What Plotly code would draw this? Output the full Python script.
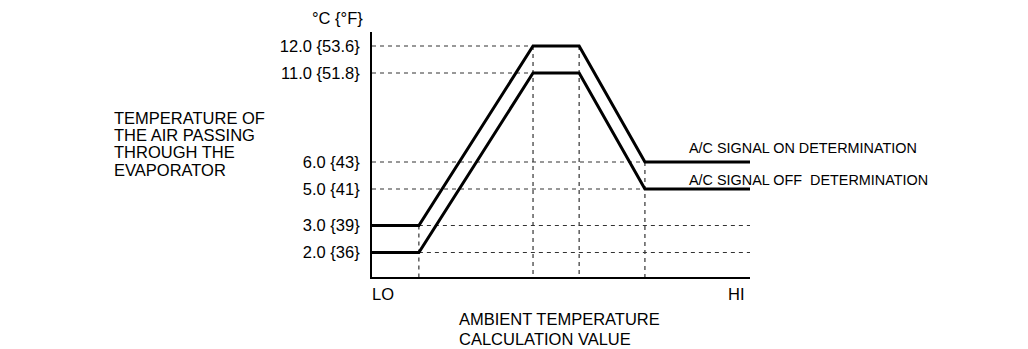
import numpy as np
import plotly.graph_objects as go

# ---- data ----
# ambient temperature calculation value (schematic, LO=0 ... HI=100)
ambient = [0, 12.4, 42.6, 54.8, 72.2, 100]
signal_on_c = [3.0, 3.0, 12.0, 12.0, 6.0, 6.0]     # A/C SIGNAL ON determination (°C)
signal_off_c = [2.0, 2.0, 11.0, 11.0, 5.0, 5.0]    # A/C SIGNAL OFF determination (°C)

tick_c = [2.0, 3.0, 5.0, 6.0, 11.0, 12.0]
tick_f = ["36", "39", "41", "43", "51.8", "53.6"]
tick_labels = [f"{c:.1f} {{{f}}}" for c, f in zip(tick_c, tick_f)]

# schematic (not-to-scale) vertical axis: °C -> display units
scale_c = [2.0, 3.0, 5.0, 6.0, 11.0, 12.0]
scale_disp = [24.5, 51.5, 88, 115, 204, 231]


def ydisp(v):
    return list(np.interp(v, scale_c, scale_disp))


FONT = "Liberation Sans"
L, R, T, B = 372, 278, 32, 72
W, H = 1028, 349
PW, PH = W - L - R, H - T - B


def paper(xpx, ypx):
    return (xpx - L) / PW, (H - B - ypx) / PH


fig = go.Figure()

dash_style = dict(color="#333333", width=1.2, dash="4px,4px")
x_min, x_max = ambient[0], ambient[-1]
on_y = ydisp(signal_on_c)
off_y = ydisp(signal_off_c)

# guide lines
guides = []
guides.append(([ambient[1], x_max], [on_y[1], on_y[1]]))
guides.append(([ambient[1], x_max], [off_y[1], off_y[1]]))
guides.append(([ambient[1], ambient[1]], [on_y[1], 0]))
guides.append(([x_min, ambient[2]], [on_y[2], on_y[2]]))
guides.append(([x_min, ambient[2]], [off_y[2], off_y[2]]))
guides.append(([ambient[2], ambient[2]], [on_y[2], 0]))
guides.append(([ambient[3], ambient[3]], [on_y[3], 0]))
guides.append(([x_min, ambient[4]], [on_y[4], on_y[4]]))
guides.append(([x_min, ambient[4]], [off_y[4], off_y[4]]))
guides.append(([ambient[4], ambient[4]], [on_y[4], 0]))

for gx, gy in guides:
    fig.add_trace(go.Scatter(x=gx, y=gy, mode="lines", line=dash_style,
                             hoverinfo="skip", showlegend=False))

for ys, name in [(on_y, "A/C SIGNAL ON DETERMINATION"),
                 (off_y, "A/C SIGNAL OFF  DETERMINATION")]:
    fig.add_trace(go.Scatter(x=ambient, y=ys, mode="lines", name=name,
                             line=dict(color="black", width=3),
                             showlegend=False))

ann = []


def add_text(text, xpx, ypx, xanchor="left", size=16.5):
    px, py = paper(xpx, ypx)
    ann.append(dict(text=text, x=px, y=py, xref="paper", yref="paper",
                    xanchor=xanchor, yanchor="middle", showarrow=False,
                    font=dict(family=FONT, size=size, color="black")))


add_text("°C {°F}", 365, 18, "right")
for i, line in enumerate(["TEMPERATURE OF", "THE AIR PASSING",
                          "THROUGH THE", "EVAPORATOR"]):
    add_text(line, 112, 118 + i * 17.2, "left")
add_text("LO", 370, 294, "left")
add_text("HI", 736, 294, "center")
add_text("AMBIENT TEMPERATURE", 457, 319, "left")
add_text("CALCULATION VALUE", 457, 339, "left")
add_text("A/C SIGNAL ON DETERMINATION", 687, 148, "left", 14.4)
add_text("A/C SIGNAL OFF  DETERMINATION", 687, 180, "left", 14.4)

fig.update_layout(
    width=W, height=H,
    margin=dict(l=L, r=R, t=T, b=B, pad=0),
    paper_bgcolor="white", plot_bgcolor="white",
    showlegend=False,
    annotations=ann,
    font=dict(family=FONT, color="black"),
    xaxis=dict(range=[x_min, x_max], showgrid=False, zeroline=False,
               showticklabels=False, ticks="", showline=True,
               linecolor="black", linewidth=2, fixedrange=True),
    yaxis=dict(range=[0, PH], showgrid=False, zeroline=False,
               tickmode="array", tickvals=ydisp(tick_c), ticktext=tick_labels,
               ticks="", ticklabelstandoff=7,
               tickfont=dict(family=FONT, size=16.5, color="black"),
               showline=True, linecolor="black", linewidth=2, fixedrange=True),
)

fig.write_html("out.html", config={"displayModeBar": False})
